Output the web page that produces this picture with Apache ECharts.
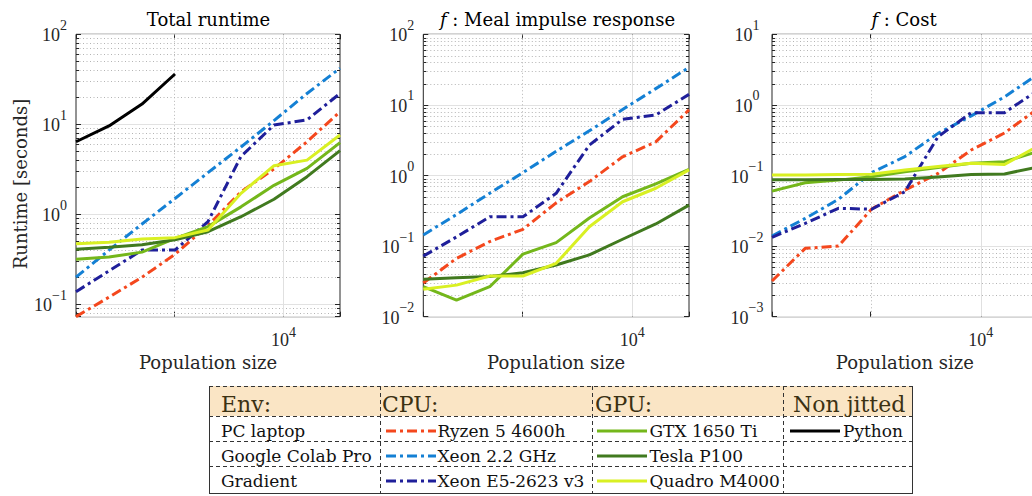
<!DOCTYPE html>
<html>
<head>
<meta charset="utf-8">
<title>Runtime vs population size</title>
<script src="https://cdn.jsdelivr.net/npm/echarts@6.0.0/dist/echarts.min.js"></script>
<style>
  html, body { margin: 0; padding: 0; background: #ffffff; }
  #chart { width: 1032px; height: 496px; }
</style>
</head>
<body>
<div id="chart"></div>
<script>
// Population sizes shared by every panel (2^7 ... 2^15)
const populationSizes = [128, 256, 512, 1024, 2048, 4096, 8192, 16384, 32768];

// Total runtime [s]
const totalRyzen  = [0.073, 0.12, 0.20, 0.36, 0.75, 1.78, 3.2, 6.4, 13.8];
const totalXeon22 = [0.20, 0.40, 0.78, 1.5, 2.9, 5.6, 11, 22, 42];
const totalXeonE5 = [0.138, 0.235, 0.40, 0.40, 0.83, 4.4, 9.8, 11.2, 22];
const totalGtx    = [0.316, 0.335, 0.38, 0.54, 0.73, 1.21, 2.1, 3.24, 6.25];
const totalTesla  = [0.41, 0.43, 0.46, 0.52, 0.64, 0.94, 1.47, 2.62, 5.1];
const totalQuadro = [0.47, 0.49, 0.53, 0.55, 0.67, 1.71, 3.47, 4.0, 7.6];
const totalPython = [6.4, 9.6, 16.8, 36.2];

// f: meal impulse response [s]
const mealRyzen  = [0.030, 0.067, 0.116, 0.173, 0.41, 0.82, 1.84, 3.0, 8.5];
const mealXeon22 = [0.144, 0.28, 0.56, 1.1, 2.2, 4.3, 8.6, 17, 34];
const mealXeonE5 = [0.072, 0.135, 0.26, 0.26, 0.56, 2.7, 6.25, 7.2, 14.1];
const mealGtx    = [0.0266, 0.0172, 0.0266, 0.077, 0.112, 0.25, 0.50, 0.76, 1.22];
const mealTesla  = [0.034, 0.0355, 0.037, 0.042, 0.054, 0.075, 0.125, 0.206, 0.38];
const mealQuadro = [0.0244, 0.028, 0.0377, 0.0377, 0.057, 0.188, 0.425, 0.66, 1.2];

// f: cost [s]
const costRyzen  = [0.0032, 0.0093, 0.0100, 0.0335, 0.062, 0.107, 0.23, 0.40, 0.88];
const costXeon22 = [0.0139, 0.0247, 0.046, 0.11, 0.185, 0.395, 0.70, 1.3, 2.7];
const costXeonE5 = [0.0133, 0.021, 0.0343, 0.0333, 0.059, 0.355, 0.776, 0.776, 1.6];
const costGtx    = [0.060, 0.079, 0.086, 0.096, 0.113, 0.13, 0.149, 0.157, 0.219];
const costTesla  = [0.087, 0.087, 0.088, 0.088, 0.089, 0.095, 0.103, 0.105, 0.132];
const costQuadro = [0.102, 0.102, 0.103, 0.104, 0.12, 0.134, 0.149, 0.143, 0.26];

// Texts
const panelTitles = ['Total runtime', '{i|f} : Meal impulse response', '{i|f} : Cost'];
const xAxisTitle = 'Population size';
const yAxisTitle = 'Runtime [seconds]';
const xTickValues = [10000];
const tableHeads = ['Env:', 'CPU:', 'GPU:', 'Non jitted'];
const envNames = ['PC laptop', 'Google Colab Pro', 'Gradient'];
const cpuNames = ['Ryzen 5 4600h', 'Xeon 2.2 GHz', 'Xeon E5-2623 v3'];
const gpuNames = ['GTX 1650 Ti', 'Tesla P100', 'Quadro M4000'];
const pythonName = 'Python';

// Styling
const AX = '#262626';
const SERIF = '"DejaVu Serif", serif';
const NUM = '"Liberation Serif", "Times New Roman", serif';
const DASH_DOT = [10, 4, 3, 4];
const cpuColors = ['#f4471d', '#1480d4', '#1f1f9a'];
const gpuColors = ['#74b71b', '#417a1f', '#d9f023'];
const pythonColor = '#000000';
const LINE_W = 3;

const panels = [
  { title: panelTitles[0], yRange: [0.0728, 100],
    cpu: [totalRyzen, totalXeon22, totalXeonE5], gpu: [totalGtx, totalTesla, totalQuadro], python: totalPython },
  { title: panelTitles[1], yRange: [0.01, 100],
    cpu: [mealRyzen, mealXeon22, mealXeonE5], gpu: [mealGtx, mealTesla, mealQuadro], python: null },
  { title: panelTitles[2], yRange: [0.001, 10],
    cpu: [costRyzen, costXeon22, costXeonE5], gpu: [costGtx, costTesla, costQuadro], python: null }
];

// Panel placement in pixels
const GRID_TOP = 34.3, GRID_H = 282.4;
const panelBoxes = [
  { left: 76,    width: 264,   titleX: 208.5, labelAlign: 'right',  labelMargin: 9 },
  { left: 423.3, width: 265.7, titleX: 557.5, labelAlign: 'right',  labelMargin: 9 },
  { left: 772,   width: 265.7, titleX: 904,   labelAlign: 'center', labelMargin: 25 }
];

function isDecade(v) {
  const l = Math.log10(v);
  return Math.abs(l - Math.round(l)) < 1e-6;
}
function powText(v) {
  const e = Math.round(Math.log10(v));
  const s = e < 0 ? '\u2212' + (-e) : String(e);
  return '{b|10}{s|' + s + '}';
}
const yLabelFormatter = v => (isDecade(v) ? powText(v) : '');
const xLabelFormatter = v => (xTickValues.some(t => Math.abs(Math.log10(v / t)) < 1e-6) ? powText(v) : '');

const BASE_FS = 18, SUP_FS = 14;
const yTickRich = {
  b: { fontFamily: NUM, fontSize: BASE_FS, color: AX, padding: [8, 0, 0, 0] },
  s: { fontFamily: NUM, fontSize: SUP_FS, color: AX, verticalAlign: 'top' }
};
const xTickRich = {
  b: { fontFamily: NUM, fontSize: BASE_FS, color: AX, padding: [5, 0, 0, 0] },
  s: { fontFamily: NUM, fontSize: SUP_FS, color: AX, verticalAlign: 'top' }
};

// Minor log grid values (2..9 x 10^n) strictly inside a range
function minorValues(lo, hi) {
  const out = [];
  for (let e = Math.floor(Math.log10(lo)); e < Math.ceil(Math.log10(hi)); e++) {
    for (let m = 2; m <= 9; m++) {
      const v = m * Math.pow(10, e);
      if (v > lo * 1.0001 && v < hi * 0.9999) out.push(v);
    }
  }
  return out;
}

// Grid decoration: dotted minor rows with small inner ticks, dotted 10^3 column, solid 10^4 column
function renderDecor(params, api) {
  const cs = params.coordSys;
  const kind = api.value(2);
  const pt = api.coord([api.value(0), api.value(1)]);
  if (kind === 0) {
    const y = Math.round(pt[1]) + 0.5;
    return {
      type: 'group',
      children: [
        { type: 'line', shape: { x1: cs.x, y1: y, x2: cs.x + cs.width, y2: y },
          style: { stroke: '#b4b4b4', lineWidth: 1, lineDash: [1, 2.5] } },
        { type: 'line', shape: { x1: cs.x, y1: y, x2: cs.x + 3, y2: y },
          style: { stroke: AX, lineWidth: 1 } },
        { type: 'line', shape: { x1: cs.x + cs.width - 3, y1: y, x2: cs.x + cs.width, y2: y },
          style: { stroke: AX, lineWidth: 1 } }
      ]
    };
  }
  const x = Math.round(pt[0]) + 0.5;
  return {
    type: 'line',
    shape: { x1: x, y1: cs.y, x2: x, y2: cs.y + cs.height },
    style: kind === 1
      ? { stroke: '#b4b4b4', lineWidth: 1, lineDash: [1, 2.5] }
      : { stroke: '#e0e0e0', lineWidth: 1 }
  };
}

const grids = [], xAxes = [], yAxes = [], series = [];

panels.forEach((p, g) => {
  const box = panelBoxes[g];
  const [yMin, yMax] = p.yRange;
  const xMin = populationSizes[0], xMax = populationSizes[populationSizes.length - 1];

  grids.push({
    left: box.left, top: GRID_TOP, width: box.width, height: GRID_H,
    show: true, borderColor: AX, borderWidth: 1, backgroundColor: 'transparent',
    containLabel: false, outerBoundsMode: 'none'
  });

  const xBase = {
    type: 'log', logBase: 10, gridIndex: g, min: xMin, max: xMax,
    axisLine: { show: false },
    axisTick: { show: true, inside: true, length: 5, lineStyle: { color: AX } },
    splitLine: { show: false }, minorTick: { show: false }, minorSplitLine: { show: false }
  };
  xAxes.push(Object.assign({}, xBase, {
    position: 'bottom',
    name: xAxisTitle, nameLocation: 'middle', nameGap: 34,
    nameTextStyle: { fontFamily: SERIF, fontSize: 18, color: AX },
    axisLabel: { margin: 9, fontFamily: NUM, fontSize: BASE_FS, color: AX,
      formatter: xLabelFormatter, rich: xTickRich }
  }));
  xAxes.push(Object.assign({}, xBase, { position: 'top', axisLabel: { show: false } }));

  const yBase = {
    type: 'log', logBase: 10, gridIndex: g, min: yMin, max: yMax,
    axisLine: { show: false },
    axisTick: { show: true, inside: true, length: 5, lineStyle: { color: AX } },
    minorTick: { show: false }, minorSplitLine: { show: false }
  };
  yAxes.push(Object.assign({}, yBase, {
    position: 'left',
    splitLine: { show: true, lineStyle: { color: '#e2e2e2', width: 1 } },
    axisLabel: {
      align: box.labelAlign, margin: box.labelMargin, padding: [0, 0, 6, 0],
      fontFamily: NUM, fontSize: BASE_FS, color: AX,
      formatter: yLabelFormatter, rich: yTickRich
    }
  }));
  yAxes.push(Object.assign({}, yBase, {
    position: 'right', splitLine: { show: false }, axisLabel: { show: false }
  }));

  // background decoration
  const decor = minorValues(yMin, yMax).map(v => [xMin, v, 0]);
  decor.push([1000, yMin, 1]);
  decor.push([10000, yMin, 2]);
  series.push({
    type: 'custom', xAxisIndex: 2 * g, yAxisIndex: 2 * g, silent: true, z: 1,
    clip: true, animation: false, encode: { x: 0, y: 1 },
    renderItem: renderDecor, data: decor
  });

  const addLine = (name, values, color, dash) => {
    series.push({
      type: 'line', name, xAxisIndex: 2 * g, yAxisIndex: 2 * g,
      data: values.map((v, i) => [populationSizes[i], v]),
      symbol: 'none', showSymbol: false, silent: true, animation: false, clip: true, z: 3,
      lineStyle: { color, width: LINE_W, type: dash, cap: 'butt', join: 'round' },
      itemStyle: { color }, emphasis: { disabled: true }
    });
  };
  p.cpu.forEach((vals, k) => addLine(cpuNames[k], vals, cpuColors[k], DASH_DOT));
  p.gpu.forEach((vals, k) => addLine(gpuNames[k], vals, gpuColors[k], 'solid'));
  if (p.python) addLine(pythonName, p.python, pythonColor, 'solid');
});

// Titles, y label and the environment table
const graphics = [];
panels.forEach((p, g) => {
  graphics.push({
    type: 'text', x: panelBoxes[g].titleX, y: 19,
    style: {
      text: p.title, fontFamily: SERIF, fontSize: 18, fill: '#000',
      align: 'center', verticalAlign: 'middle',
      rich: { i: { fontFamily: SERIF, fontSize: 18, fontStyle: 'italic', fill: '#000' } }
    }
  });
});
graphics.push({
  type: 'text', x: 20, y: 184, rotation: Math.PI / 2,
  style: { text: yAxisTitle, fontFamily: SERIF, fontSize: 18, fill: AX, align: 'center', verticalAlign: 'middle' }
});

const T = { left: 209, right: 912, top: 386, rows: [416, 441, 466], bottom: 493, cols: [380, 592, 783] };
const dashed = { stroke: '#333333', lineWidth: 1, lineDash: [4, 3] };
const solid = { stroke: '#333333', lineWidth: 1 };
graphics.push({ type: 'rect', shape: { x: T.left, y: T.top, width: T.right - T.left, height: T.rows[0] - T.top },
  style: { fill: '#fae5c5' } });
[T.top].concat(T.rows).forEach(y => graphics.push({ type: 'line',
  shape: { x1: T.left, y1: y + 0.5, x2: T.right, y2: y + 0.5 }, style: dashed }));
T.cols.forEach(x => graphics.push({ type: 'line',
  shape: { x1: x + 0.5, y1: T.top, x2: x + 0.5, y2: T.bottom }, style: dashed }));
graphics.push({ type: 'line', shape: { x1: T.left + 0.5, y1: T.top, x2: T.left + 0.5, y2: T.bottom }, style: solid });
graphics.push({ type: 'line', shape: { x1: T.right + 0.5, y1: T.top, x2: T.right + 0.5, y2: T.bottom }, style: solid });
graphics.push({ type: 'line', shape: { x1: T.left, y1: T.bottom + 0.5, x2: T.right + 1, y2: T.bottom + 0.5 }, style: solid });

const headX = [221, 382, 595, 793];
tableHeads.forEach((h, k) => graphics.push({
  type: 'text', x: headX[k], y: 404,
  style: { text: h, fontFamily: SERIF, fontSize: 22, fill: '#3b3113', align: 'left', verticalAlign: 'middle' }
}));
const rowY = [431, 456, 481];
const cellText = (x, y, s) => graphics.push({
  type: 'text', x, y, style: { text: s, fontFamily: SERIF, fontSize: 17, fill: '#111', align: 'left', verticalAlign: 'middle' }
});
const sample = (x1, x2, y, color, dash) => graphics.push({
  type: 'line', shape: { x1, y1: y, x2, y2: y },
  style: { stroke: color, lineWidth: LINE_W, lineDash: dash, lineCap: 'butt' }
});
envNames.forEach((s, k) => cellText(221, rowY[k], s));
cpuNames.forEach((s, k) => { sample(386, 436, rowY[k], cpuColors[k], DASH_DOT); cellText(437.5, rowY[k], s); });
gpuNames.forEach((s, k) => { sample(597, 647, rowY[k], gpuColors[k], null); cellText(649.5, rowY[k], s); });
sample(790, 840, rowY[0], pythonColor, null);
cellText(843, rowY[0], pythonName);

const chart = echarts.init(document.getElementById('chart'), null, { renderer: 'svg' });
chart.setOption({
  backgroundColor: '#ffffff',
  animation: false,
  grid: grids,
  xAxis: xAxes,
  yAxis: yAxes,
  series: series,
  graphic: { elements: graphics }
});
</script>
</body>
</html>
